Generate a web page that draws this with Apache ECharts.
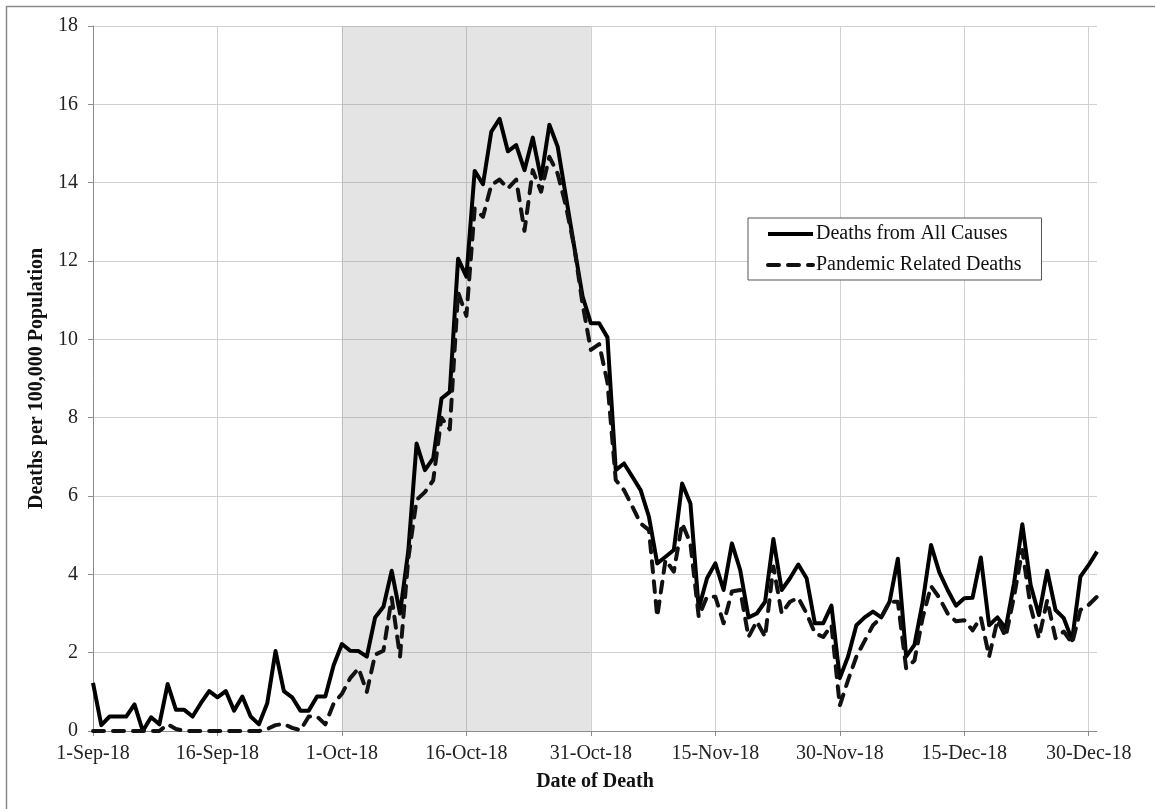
<!DOCTYPE html>
<html>
<head>
<meta charset="utf-8">
<script src="https://cdn.jsdelivr.net/npm/echarts@6/dist/echarts.min.js"></script>
<style>
  html, body { margin: 0; padding: 0; background: #ffffff; }
  #chart { width: 1155px; height: 809px; }
</style>
</head>
<body>
<div id="chart"></div>
<script>
// Daily categories, 1-Sep-18 through 31-Dec-18
const monthNames = ['Sep', 'Oct', 'Nov', 'Dec'];
const monthLengths = [30, 31, 30, 31];
const dates = [];
monthNames.forEach(function (m, i) {
  for (let d = 1; d <= monthLengths[i]; d++) dates.push(d + '-' + m + '-18');
});

// Deaths per 100,000 population, one value per day
const allCauses = [
  1.23, 0.15, 0.37, 0.37, 0.37, 0.68, 0.00, 0.35, 0.17, 1.20,
  0.54, 0.54, 0.37, 0.71, 1.02, 0.86, 1.02, 0.52, 0.88, 0.37,
  0.17, 0.71, 2.04, 1.02, 0.86, 0.52, 0.52, 0.88, 0.88, 1.68,
  2.22, 2.05, 2.04, 1.90, 2.90, 3.17, 4.09, 3.00, 4.60, 7.34,
  6.66, 6.96, 8.49, 8.66, 12.06, 11.60, 14.30, 13.96, 15.30, 15.63,
  14.80, 14.96, 14.32, 15.15, 14.10, 15.48, 14.92, 13.64, 12.36, 11.10,
  10.41, 10.41, 10.05, 6.66, 6.83, 6.49, 6.15, 5.47, 4.28, 4.45,
  4.62, 6.32, 5.81, 3.13, 3.90, 4.28, 3.60, 4.79, 4.11, 2.90,
  3.00, 3.30, 4.90, 3.60, 3.90, 4.25, 3.90, 2.75, 2.75, 3.20,
  1.35, 1.90, 2.70, 2.90, 3.05, 2.90, 3.30, 4.40, 1.90, 2.20,
  3.30, 4.75, 4.05, 3.60, 3.20, 3.39, 3.40, 4.43, 2.70, 2.90,
  2.62, 3.77, 5.28, 3.73, 2.96, 4.09, 3.09, 2.88, 2.32, 3.94,
  4.24, 4.58
];
const pandemicRelated = [
  0.00, 0.00, 0.00, 0.00, 0.00, 0.00, 0.00, 0.00, 0.00, 0.17,
  0.05, 0.00, 0.00, 0.00, 0.00, 0.00, 0.00, 0.00, 0.00, 0.00,
  0.00, 0.05, 0.15, 0.18, 0.08, 0.02, 0.37, 0.37, 0.17, 0.70,
  0.95, 1.35, 1.60, 1.00, 1.95, 2.05, 3.40, 1.90, 4.40, 5.90,
  6.10, 6.40, 8.00, 7.70, 11.20, 10.60, 13.34, 13.13, 13.94, 14.08,
  13.85, 14.08, 12.77, 14.32, 13.77, 14.66, 14.23, 13.40, 12.36, 10.90,
  9.73, 9.88, 8.90, 6.41, 6.15, 5.73, 5.30, 5.13, 2.92, 4.37,
  4.07, 5.30, 4.79, 2.92, 3.43, 3.43, 2.75, 3.56, 3.60, 2.40,
  2.80, 2.40, 4.20, 3.00, 3.30, 3.40, 3.00, 2.50, 2.40, 2.70,
  0.65, 1.30, 1.90, 2.30, 2.70, 2.90, 3.30, 3.30, 1.60, 1.80,
  2.90, 3.70, 3.40, 3.00, 2.80, 2.83, 2.57, 2.90, 1.90, 2.83,
  2.41, 3.43, 4.62, 3.17, 2.37, 3.34, 2.37, 2.54, 2.24, 3.09,
  3.22, 3.43
];

const seriesNames = ['Deaths from All Causes', 'Pandemic Related Deaths'];
const shadedPeriod = ['1-Oct-18', '31-Oct-18'];
const dateTickStep = 15;   // a labelled date every 15 days
const yMin = 0, yMax = 18, yStep = 2;

const serif = "'Liberation Serif', 'Times New Roman', serif";
const fontSize = 20;
const everyStep = function (index) { return index % dateTickStep === 0; };

const chart = echarts.init(document.getElementById('chart'), null, { renderer: 'canvas' });

chart.setOption({
  animation: false,
  backgroundColor: '#ffffff',
  textStyle: { fontFamily: serif, color: '#222' },
  graphic: [{
    type: 'rect',
    shape: { x: 6.5, y: 6.5, width: 1170, height: 830 },
    style: { fill: 'none', stroke: '#8a8a8a', lineWidth: 1.5 },
    silent: true
  }],
  grid: { left: 93, right: 58, top: 26, bottom: 78, containLabel: false },
  legend: {
    orient: 'vertical',
    left: 748,
    top: 218,
    itemWidth: 45,
    itemHeight: 14,
    itemGap: 9,
    padding: [5, 20, 4, 18],
    backgroundColor: '#ffffff',
    borderColor: '#555',
    borderWidth: 1,
    // line-only legend keys (no point markers)
    itemStyle: { color: 'transparent', borderWidth: 0, opacity: 0 },
    lineStyle: { width: 4 },
    textStyle: { fontFamily: serif, fontSize: fontSize, color: '#111', padding: [0, 0, 0, -2], lineHeight: 22 },
    data: seriesNames
  },
  xAxis: {
    type: 'category',
    data: dates,
    boundaryGap: false,
    name: 'Date of Death',
    nameLocation: 'middle',
    nameGap: 41,
    nameTextStyle: { fontFamily: serif, fontSize: fontSize, fontWeight: 'bold', color: '#111' },
    axisLine: { lineStyle: { color: '#8c8c8c', width: 1 } },
    axisTick: { show: true, interval: everyStep, length: 5, lineStyle: { color: '#8c8c8c' } },
    axisLabel: { interval: everyStep, margin: 13, fontFamily: serif, fontSize: fontSize, color: '#222' },
    splitLine: { show: true, interval: everyStep, lineStyle: { color: '#d0d0d0', width: 1 } }
  },
  yAxis: {
    type: 'value',
    min: yMin,
    max: yMax,
    interval: yStep,
    name: 'Deaths per 100,000 Population',
    nameLocation: 'middle',
    nameRotate: 90,
    nameGap: 44,
    nameTextStyle: { fontFamily: serif, fontSize: fontSize, fontWeight: 'bold', color: '#111' },
    axisLine: { show: true, lineStyle: { color: '#8c8c8c', width: 1 } },
    axisTick: { show: true, length: 5, lineStyle: { color: '#8c8c8c' } },
    axisLabel: { margin: 15, fontFamily: serif, fontSize: fontSize, color: '#222' },
    splitLine: { show: true, lineStyle: { color: '#d0d0d0', width: 1 } }
  },
  series: [
    {
      name: seriesNames[0],
      type: 'line',
      data: allCauses,
      symbol: 'none',
      z: 3,
      lineStyle: { color: '#000', width: 4, join: 'round' },
      itemStyle: { color: '#000' },
      markArea: {
        silent: true,
        itemStyle: { color: 'rgba(120,120,120,0.2)' },
        data: [[{ xAxis: shadedPeriod[0] }, { xAxis: shadedPeriod[1] }]]
      }
    },
    {
      name: seriesNames[1],
      type: 'line',
      data: pandemicRelated,
      symbol: 'none',
      z: 4,
      lineStyle: { color: '#111', width: 4, type: [11, 9], cap: 'round', join: 'round' },
      itemStyle: { color: '#111' }
    }
  ]
});
</script>
</body>
</html>
